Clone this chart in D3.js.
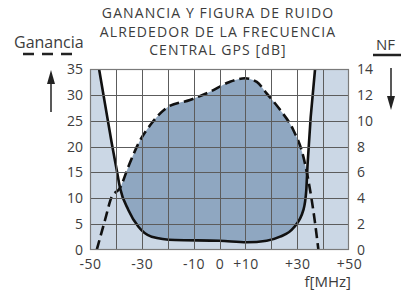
<!DOCTYPE html>
<html>
<head>
<meta charset="utf-8">
<script src="https://cdn.jsdelivr.net/npm/d3@7"></script>
<style>
  body { margin: 0; background: #fff; }
  text { font-family: "Open Sans", sans-serif; fill: #3c3c3c; }
</style>
</head>
<body>
<script>
// values
var titleLines = ["GANANCIA Y FIGURA DE RUIDO", "ALREDEDOR DE LA FRECUENCIA", "CENTRAL GPS [dB]"]
var xTicks = [-50, -30, -10, 0, 10, 30, 50]
var gainTicks = [0, 5, 10, 15, 20, 25, 30, 35]
var nfTicks = [0, 2, 4, 6, 8, 10, 12, 14]

// gain curve (dashed), dB vs MHz
var gainF = [-47.4, -44.2, -41.6, -38.4, -35.2, -31.3, -26.2, -19.8, -11.4, -3.7, 3.9, 9.8, 14.4, 18.2, 23.4, 28.5, 32.4, 34.3, 35.6, 36.9, 38.2]
var gainV = [0, 5.8, 10.3, 12, 16.1, 20.6, 24.5, 27.7, 29, 30.6, 32.5, 33.2, 32.5, 30.3, 27.1, 23.2, 18, 13.5, 9.7, 5.2, 0]

// noise figure curve (solid), dB vs MHz
var nfF = [-46.5, -44.2, -41.6, -39.7, -38.4, -35.2, -31.3, -26.2, -17.2, 0, 10.5, 18.2, 23.4, 28.5, 32.4, 33.5, 34.0, 36.9]
var nfV = [14, 11.3, 8.25, 6.2, 4.8, 3.1, 1.8, 1.03, 0.77, 0.72, 0.6, 0.72, 1.03, 1.7, 3.1, 4.6, 6.6, 14]

var width = 401
var height = 295
var pL = 90, pR = 349, pT = 69, pB = 250

var svg = d3.select("body")
  .append("svg")
    .attr("width", width)
    .attr("height", height)

var x = d3.scaleLinear().domain([-50, 50]).range([pL, pR])
var yG = d3.scaleLinear().domain([0, 35]).range([pB, pT])
var yN = d3.scaleLinear().domain([0, 14]).range([pB, pT])

var gainData = gainF.map(function(f, i){ return {f: f, v: gainV[i]} })
var nfData = nfF.map(function(f, i){ return {f: f, v: nfV[i]} })

var defs = svg.append("defs")
defs.append("clipPath").attr("id", "plot")
  .append("rect")
    .attr("x", pL).attr("y", pT)
    .attr("width", pR - pL).attr("height", pB - pT)

// region above the NF curve (inside the U)
var insideArea = d3.area()
  .x(function(d){ return x(d.f) })
  .y0(pT)
  .y1(function(d){ return yN(d.v) })
  .curve(d3.curveMonotoneX)

defs.append("clipPath").attr("id", "inside")
  .append("path")
    .attr("d", insideArea(nfData))

var plot = svg.append("g").attr("clip-path", "url(#plot)")

// light blue background
plot.append("rect")
  .attr("x", pL).attr("y", pT)
  .attr("width", pR - pL).attr("height", pB - pT)
  .style("fill", "#cbd7e5")

plot.append("path")
  .attr("d", insideArea(nfData))
  .style("fill", "#ffffff")

// gain area, only where it is above the NF curve
var gainArea = d3.area()
  .x(function(d){ return x(d.f) })
  .y0(pB)
  .y1(function(d){ return yG(d.v) })
  .curve(d3.curveMonotoneX)

plot.append("g").attr("clip-path", "url(#inside)")
  .append("path")
    .attr("d", gainArea(gainData))
    .style("fill", "#8fa7c1")

// grid
var grid = svg.append("g").style("stroke", "#5c5c5c").style("stroke-width", 1)
d3.range(-40, 50, 10).forEach(function(f){
  grid.append("line")
    .attr("x1", Math.round(x(f)) + 0.5).attr("x2", Math.round(x(f)) + 0.5)
    .attr("y1", pT).attr("y2", pB)
})
d3.range(5, 35, 5).forEach(function(g){
  grid.append("line")
    .attr("x1", pL).attr("x2", pR)
    .attr("y1", Math.round(yG(g)) + 0.5).attr("y2", Math.round(yG(g)) + 0.5)
})
svg.append("rect")
  .attr("x", pL + 0.5).attr("y", pT + 0.5)
  .attr("width", pR - pL - 1).attr("height", pB - pT - 1)
  .style("fill", "none").style("stroke", "#7a7a7a").style("stroke-width", 1.2)

// curves
var line = function(sc){
  return d3.line()
    .x(function(d){ return x(d.f) })
    .y(function(d){ return sc(d.v) })
    .curve(d3.curveMonotoneX)
}
plot.append("path")
  .attr("d", line(yN)(nfData))
  .style("fill", "none").style("stroke", "#111").style("stroke-width", 2.6)

plot.append("path")
  .attr("d", line(yG)(gainData))
  .style("fill", "none").style("stroke", "#111").style("stroke-width", 2.6)
  .style("stroke-dasharray", "10,5")

// axes (labels only)
var axL = svg.append("g").attr("transform", "translate(" + pL + ",0)")
  .call(d3.axisLeft(yG).tickValues(gainTicks).tickSize(0).tickPadding(7))
var axR = svg.append("g").attr("transform", "translate(" + pR + ",0)")
  .call(d3.axisRight(yN).tickValues(nfTicks).tickSize(0).tickPadding(8))
var axB = svg.append("g").attr("transform", "translate(0," + pB + ")")
  .call(d3.axisBottom(x).tickValues(xTicks).tickSize(0).tickPadding(11)
    .tickFormat(function(d){ return d > 0 ? "+" + d : d < 0 ? "-" + (-d) : "0" }))
;[axL, axR, axB].forEach(function(a){
  a.select(".domain").remove()
  a.selectAll("text").style("font-size", "14px").style("font-family", "Open Sans, sans-serif").style("fill", "#3c3c3c")
})
axB.selectAll("text").style("letter-spacing", "0.5px").attr("dy", "0.6em")

svg.append("text")
  .attr("x", 351).attr("y", 287)
  .attr("text-anchor", "end")
  .style("font-size", "15px")
  .text("f[MHz]")

// title
var titleY = [18, 37, 55]
titleLines.forEach(function(t, i){
  svg.append("text")
    .attr("x", 218).attr("y", titleY[i])
    .attr("text-anchor", "middle")
    .style("font-size", "14px")
    .style("letter-spacing", "1.1px")
    .text(t)
})

// left legend: Ganancia, dashes, up arrow
svg.append("text")
  .attr("x", 14).attr("y", 48)
  .style("font-size", "16px")
  .text("Ganancia")
svg.append("line")
  .attr("x1", 23).attr("x2", 74).attr("y1", 54).attr("y2", 54)
  .style("stroke", "#222").style("stroke-width", 2.5).style("stroke-dasharray", "11,8")
svg.append("line")
  .attr("x1", 51).attr("x2", 51).attr("y1", 112).attr("y2", 80)
  .style("stroke", "#222").style("stroke-width", 1.5)
svg.append("path")
  .attr("d", "M47,84 L51,70 L55,84 Z")
  .style("fill", "#222")

// right legend: NF, solid line, down arrow
svg.append("text")
  .attr("x", 376).attr("y", 50)
  .style("font-size", "15px")
  .text("NF")
svg.append("line")
  .attr("x1", 373).attr("x2", 401).attr("y1", 55).attr("y2", 55)
  .style("stroke", "#222").style("stroke-width", 2.5)
svg.append("line")
  .attr("x1", 391).attr("x2", 391).attr("y1", 68).attr("y2", 98)
  .style("stroke", "#222").style("stroke-width", 1.5)
svg.append("path")
  .attr("d", "M387,96 L391,110 L395,96 Z")
  .style("fill", "#222")
</script>
</body>
</html>
